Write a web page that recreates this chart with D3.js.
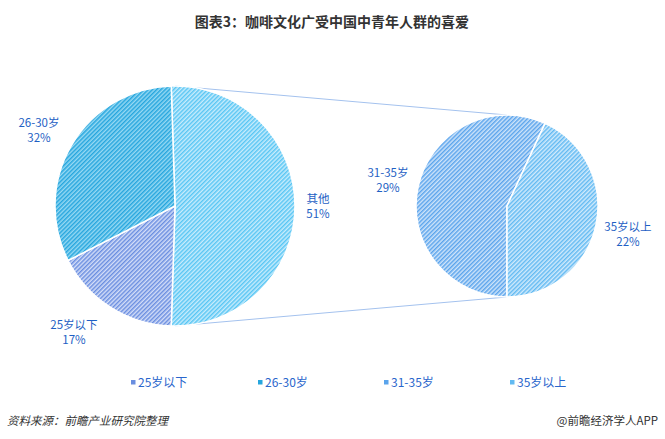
<!DOCTYPE html>
<html>
<head>
<meta charset="utf-8">
<script src="https://cdn.jsdelivr.net/npm/d3@7"></script>
<style>
  body { margin: 0; background: #fff; }
  svg text { font-family: "Noto Sans CJK SC", "Noto Sans", sans-serif; }
</style>
</head>
<body>
<div id="chart"></div>
<script>
// main pie, clockwise, 其他 centred on the right
var mainLabels = ["其他", "25岁以下", "26-30岁"];
var mainValues = [51, 17, 32];
// second pie, breakdown of 其他
var subLabels = ["31-35岁", "35岁以上"];
var subValues = [29, 22];
var legendLabels = ["25岁以下", "26-30岁", "31-35岁", "35岁以上"];

var width = 665, height = 439;

var fills = {
  "其他":    {bg: "#c8ecfc", fg: "#58c6f4"},
  "25岁以下": {bg: "#d4def8", fg: "#6a8ee0"},
  "26-30岁": {bg: "#96d9f3", fg: "#26a6de"},
  "31-35岁": {bg: "#d0e5fa", fg: "#5aa4ec"},
  "35岁以上": {bg: "#d2ebfc", fg: "#62baf2"}
};

var svg = d3.select("#chart").append("svg")
  .attr("width", width)
  .attr("height", height);

/* hatch patterns */
var defs = svg.append("defs");
Object.keys(fills).forEach(function(k, i) {
  var p = defs.append("pattern")
    .attr("id", "hatch" + i)
    .attr("patternUnits", "userSpaceOnUse")
    .attr("width", 3).attr("height", 3)
    .attr("patternTransform", "rotate(45)");
  p.append("rect").attr("width", 3).attr("height", 3).attr("fill", fills[k].bg);
  p.append("rect").attr("width", 1.5).attr("height", 3).attr("fill", fills[k].fg);
  fills[k].id = "url(#hatch" + i + ")";
});

/* title */
svg.append("text")
  .attr("x", 332).attr("y", 27)
  .attr("text-anchor", "middle")
  .attr("font-size", 14).attr("font-weight", "bold")
  .attr("fill", "#333")
  .text("图表3：咖啡文化广受中国中青年人群的喜爱");

var mainC = {x: 175, y: 206, r: 120};
var subC = {x: 507, y: 206, r: 91};

/* connector lines */
svg.append("line")
  .attr("x1", mainC.x).attr("y1", mainC.y - mainC.r)
  .attr("x2", subC.x).attr("y2", subC.y - subC.r)
  .attr("stroke", "#a4c2ee").attr("stroke-width", 1);
svg.append("line")
  .attr("x1", mainC.x).attr("y1", mainC.y + mainC.r)
  .attr("x2", subC.x).attr("y2", subC.y + subC.r)
  .attr("stroke", "#a4c2ee").attr("stroke-width", 1);

function drawPie(c, labels, values, start, labelPos) {
  var pie = d3.pie().sort(null)
    .startAngle(start).endAngle(start + 2 * Math.PI);
  var arc = d3.arc().innerRadius(0).outerRadius(c.r);
  var arcs = pie(values);
  var g = svg.append("g").attr("transform", "translate(" + c.x + "," + c.y + ")");
  g.selectAll("path")
    .data(arcs).enter()
    .append("path")
    .attr("d", arc)
    .attr("fill", function(d, i) { return fills[labels[i]].id; })
    .attr("stroke", "#fff")
    .attr("stroke-width", 1.5);

  arcs.forEach(function(d, i) {
    var pos = labelPos[i];
    var t = svg.append("text")
      .attr("x", pos[0]).attr("y", pos[1])
      .attr("text-anchor", "middle")
      .attr("font-size", 11.5)
      .attr("fill", "#1e5fc4");
    t.append("tspan").attr("x", pos[0]).text(labels[i]);
    t.append("tspan").attr("x", pos[0]).attr("dy", 15).text(values[i] + "%");
  });
}

// centre the 其他 slice on 3 o'clock
var mainStart = Math.PI / 2 - Math.PI * mainValues[0] / d3.sum(mainValues);
drawPie(mainC, mainLabels, mainValues, mainStart,
  [[318, 203], [74, 329], [39, 127]]);
drawPie(subC, subLabels, subValues, Math.PI,
  [[388, 177], [628, 231]]);

/* legend */
var lx = [131, 258, 384, 510];
legendLabels.forEach(function(l, i) {
  svg.append("rect")
    .attr("x", lx[i]).attr("y", 380)
    .attr("width", 4.5).attr("height", 4.5)
    .attr("fill", fills[l].fg);
  svg.append("text")
    .attr("x", lx[i] + 7).attr("y", 387)
    .attr("font-size", 12)
    .attr("fill", "#2a66cc")
    .text(l);
});

/* footer */
svg.append("text")
  .attr("x", 7).attr("y", 425)
  .attr("font-size", 11.5).attr("font-style", "italic")
  .attr("fill", "#333")
  .text("资料来源：前瞻产业研究院整理");
svg.append("text")
  .attr("x", 658).attr("y", 425)
  .attr("text-anchor", "end")
  .attr("font-size", 11.5)
  .attr("fill", "#333")
  .text("@前瞻经济学人APP");
</script>
</body>
</html>
